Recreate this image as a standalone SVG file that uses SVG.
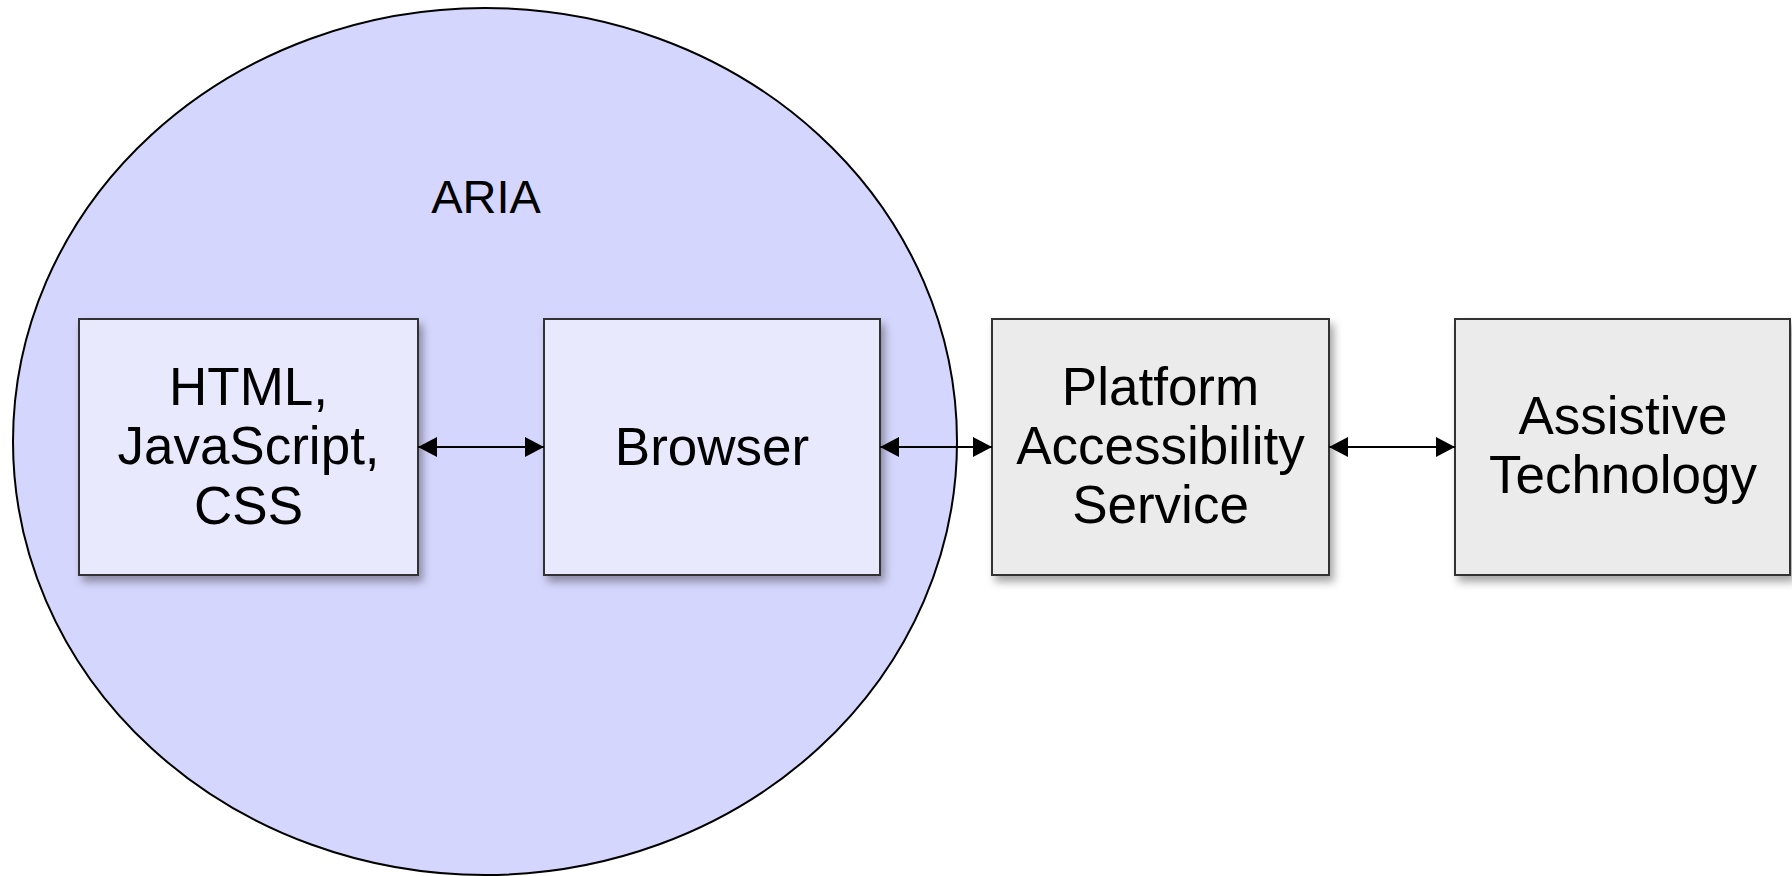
<svg xmlns="http://www.w3.org/2000/svg" width="1792" height="876" viewBox="0 0 1792 876">
  <style>
    .box { stroke: #333333; stroke-width: 2; filter: url(#shadow); }
    .inner { fill: #e9e9fd; }
    .outer { fill: #ebebeb; }
    .label { font-family: "Liberation Sans", Arial, sans-serif; font-size: 53px; fill: #000000; text-anchor: middle; }
    .conn { stroke: #000000; stroke-width: 2; fill: none; marker-start: url(#head); marker-end: url(#head); }
  </style>
  <defs>
    <filter id="shadow" x="-10%" y="-10%" width="130%" height="130%">
      <feDropShadow dx="4" dy="6" stdDeviation="4" flood-color="#000000" flood-opacity="0.35"/>
    </filter>
    <marker id="head" markerUnits="userSpaceOnUse" markerWidth="20" markerHeight="20" refX="19" refY="10" orient="auto-start-reverse" viewBox="0 0 20 20">
      <path d="M0,0 L19,10 L0,20 Z" fill="#000000"/>
    </marker>
  </defs>
  <rect width="1792" height="876" fill="#ffffff"/>

  <g id="aria">
    <ellipse cx="485" cy="441.5" rx="472" ry="433.5" fill="#d5d6fd" stroke="#000000" stroke-width="2"/>
    <text class="label" x="486" y="213" style="font-size:47px">ARIA</text>
  </g>

  <g id="html">
    <rect class="box inner" x="79" y="319" width="339" height="256"/>
    <text class="label" x="248.5" y="405">HTML,</text>
    <text class="label" x="248.5" y="464">JavaScript,</text>
    <text class="label" x="248.5" y="524">CSS</text>
  </g>

  <g id="browser">
    <rect class="box inner" x="544" y="319" width="336" height="256"/>
    <text class="label" x="712" y="465">Browser</text>
  </g>

  <g id="platform">
    <rect class="box outer" x="992" y="319" width="337" height="256"/>
    <text class="label" x="1160.5" y="405">Platform</text>
    <text class="label" x="1160.5" y="464">Accessibility</text>
    <text class="label" x="1160.5" y="523">Service</text>
  </g>

  <g id="assistive">
    <rect class="box outer" x="1455" y="319" width="335" height="256"/>
    <text class="label" x="1623" y="434">Assistive</text>
    <text class="label" x="1623" y="493">Technology</text>
  </g>

  <g id="connectors">
    <line class="conn" x1="418" y1="447" x2="544" y2="447"/>
    <line class="conn" x1="880" y1="447" x2="992" y2="447"/>
    <line class="conn" x1="1329" y1="447" x2="1455" y2="447"/>
  </g>
</svg>
